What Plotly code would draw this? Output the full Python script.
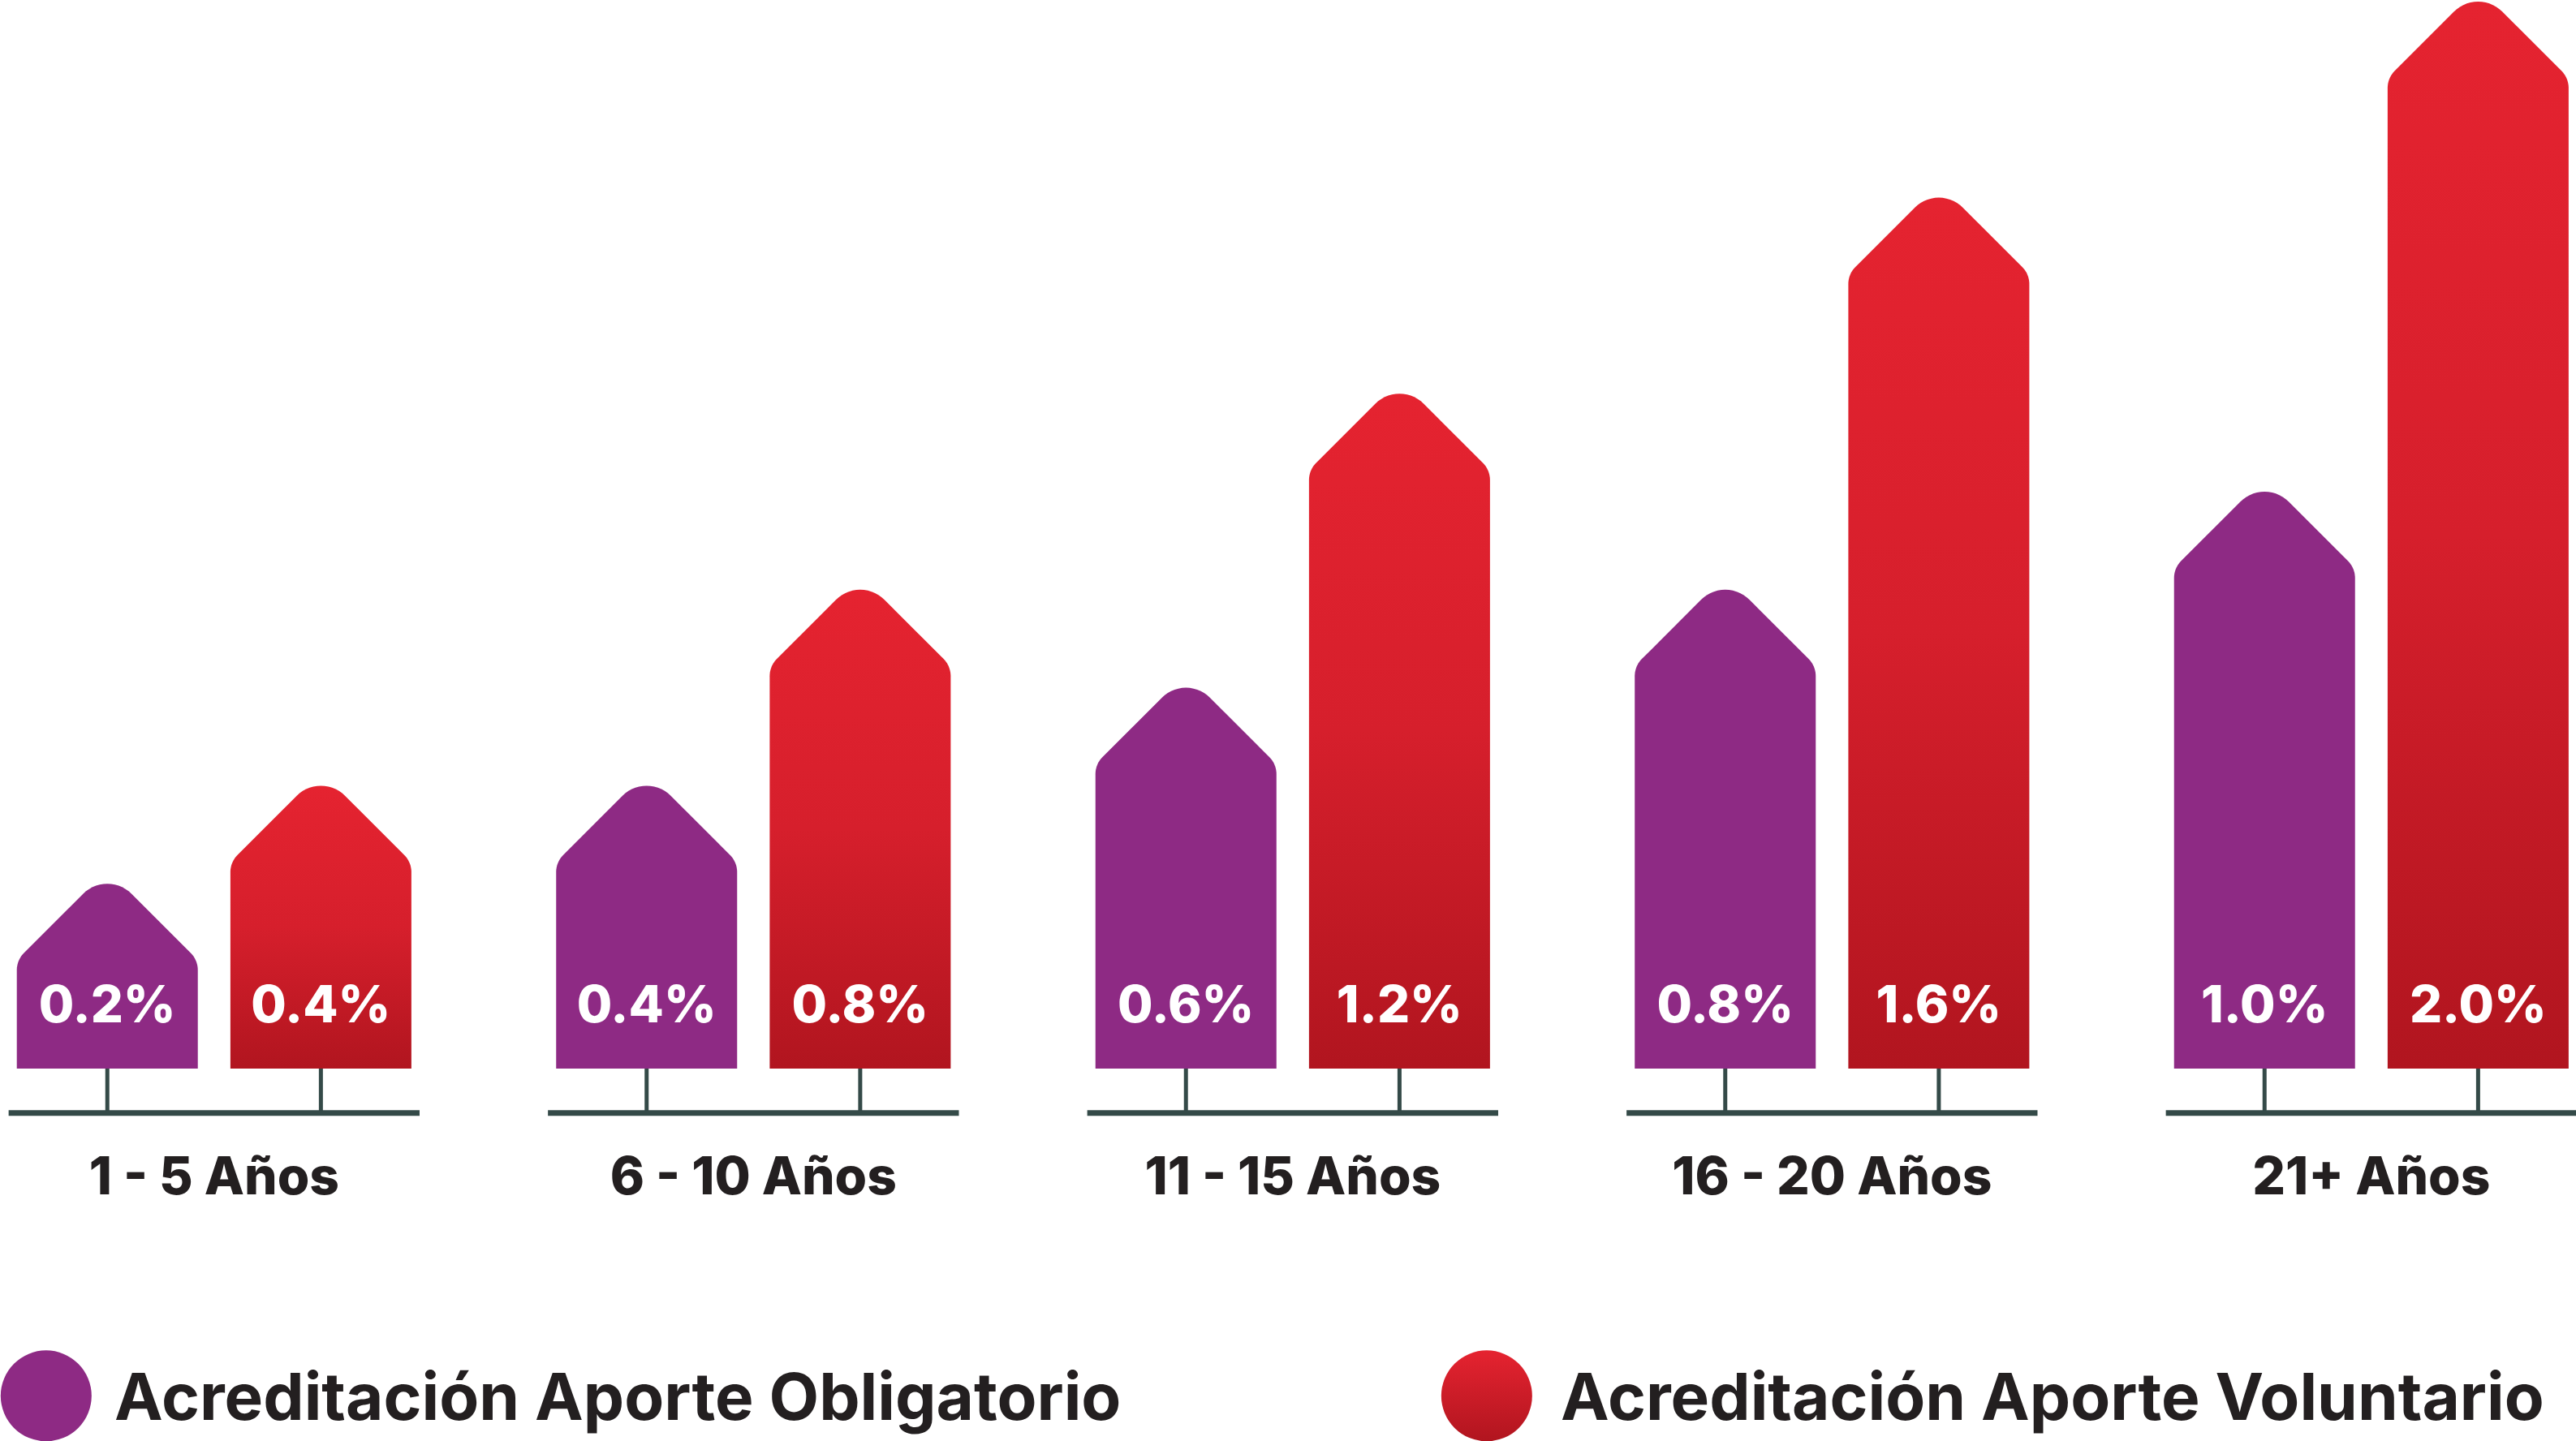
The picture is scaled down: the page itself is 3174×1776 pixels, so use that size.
import math
import plotly.graph_objects as go

# ---------------- data ----------------
categories = ["1 - 5 Años", "6 - 10 Años", "11 - 15 Años", "16 - 20 Años", "21+ Años"]
obligatorio = [0.2, 0.4, 0.6, 0.8, 1.0]
voluntario = [0.4, 0.8, 1.2, 1.6, 2.0]
series_names = ["Acreditación Aporte Obligatorio", "Acreditación Aporte Voluntario"]

# ---------------- layout / style ----------------
W, H = 3174, 1776
X0, X1 = -0.3970, 4.3795
Y0, Y1 = -0.9371, 2.0033
PX_X = W / (X1 - X0)
PX_Y = H / (Y1 - Y0)

PURPLE = "#8E2A84"
RED_TOP = "#E52330"
RED_MID = "#D61F2C"
RED_BOT = "#B1151F"
RED_SCALE = [[0, RED_BOT], [0.5, RED_MID], [1, RED_TOP]]
AXIS_COLOR = "#344A48"
TEXT_COLOR = "#231F20"

BAR_OFFSET = 0.198
BAR_HALF = 0.1678
BASE = -0.177
AXIS_Y = -0.268
AXIS_HALF = 0.381
VALUE_LABEL_Y = -0.057
CAT_LABEL_Y = -0.408
LEGEND_Y = -0.845
R_PEAK = 42.0
R_SHOULDER = 30.0


def rounded_polygon(verts, radii, n=14):
    """verts in pixel space; returns list of points with rounded corners."""
    out = []
    m = len(verts)
    for k in range(m):
        P = verts[k]
        r = radii[k]
        if r <= 0:
            out.append(P)
            continue
        A = verts[k - 1]
        B = verts[(k + 1) % m]
        u1 = (A[0] - P[0], A[1] - P[1])
        u2 = (B[0] - P[0], B[1] - P[1])
        l1 = math.hypot(*u1)
        l2 = math.hypot(*u2)
        u1 = (u1[0] / l1, u1[1] / l1)
        u2 = (u2[0] / l2, u2[1] / l2)
        ang = math.acos(max(-1, min(1, u1[0] * u2[0] + u1[1] * u2[1])))
        th = ang / 2
        t = r / math.tan(th)
        bis = (u1[0] + u2[0], u1[1] + u2[1])
        lb = math.hypot(*bis)
        bis = (bis[0] / lb, bis[1] / lb)
        d = r / math.sin(th)
        C = (P[0] + bis[0] * d, P[1] + bis[1] * d)
        T1 = (P[0] + u1[0] * t, P[1] + u1[1] * t)
        T2 = (P[0] + u2[0] * t, P[1] + u2[1] * t)
        a1 = math.atan2(T1[1] - C[1], T1[0] - C[0])
        a2 = math.atan2(T2[1] - C[1], T2[0] - C[0])
        da = a2 - a1
        while da > math.pi:
            da -= 2 * math.pi
        while da < -math.pi:
            da += 2 * math.pi
        for j in range(n + 1):
            a = a1 + da * j / n
            out.append((C[0] + r * math.cos(a), C[1] + r * math.sin(a)))
    return out


def arrow_bar(xc, value):
    """Arrow shaped bar from BASE up to value (rounded tip at value)."""
    cx = xc * PX_X
    w = BAR_HALF * PX_X
    yb = BASE * PX_Y
    apex = value * PX_Y + R_PEAK * (math.sqrt(2) - 1)
    ys = apex - w
    verts = [(cx - w, yb), (cx - w, ys), (cx, apex), (cx + w, ys), (cx + w, yb)]
    radii = [0, R_SHOULDER, R_PEAK, R_SHOULDER, 0]
    pts = rounded_polygon(verts, radii)
    xs = [p[0] / PX_X for p in pts] + [pts[0][0] / PX_X]
    ys_ = [p[1] / PX_Y for p in pts] + [pts[0][1] / PX_Y]
    return xs, ys_


fig = go.Figure()

# axis lines and ticks
ax_x, ax_y, tk_x, tk_y = [], [], [], []
for i in range(len(categories)):
    ax_x += [i - AXIS_HALF, i + AXIS_HALF, None]
    ax_y += [AXIS_Y, AXIS_Y, None]
    for off in (-BAR_OFFSET, BAR_OFFSET):
        tk_x += [i + off, i + off, None]
        tk_y += [BASE, AXIS_Y, None]
fig.add_trace(go.Scatter(x=tk_x, y=tk_y, mode="lines", line=dict(color=AXIS_COLOR, width=5),
                         hoverinfo="skip", showlegend=False))
fig.add_trace(go.Scatter(x=ax_x, y=ax_y, mode="lines", line=dict(color=AXIS_COLOR, width=7),
                         hoverinfo="skip", showlegend=False))

# bars
for i, v in enumerate(obligatorio):
    xs, ys = arrow_bar(i - BAR_OFFSET, v)
    fig.add_trace(go.Scatter(x=xs, y=ys, mode="none", fill="toself", fillcolor=PURPLE,
                             name=series_names[0], hoverinfo="skip", showlegend=False))
for i, v in enumerate(voluntario):
    xs, ys = arrow_bar(i + BAR_OFFSET, v)
    fig.add_trace(go.Scatter(x=xs, y=ys, mode="none", fill="toself",
                             fillgradient=dict(type="vertical", colorscale=RED_SCALE),
                             name=series_names[1], hoverinfo="skip", showlegend=False))

# value labels
lx = [i - BAR_OFFSET for i in range(len(categories))] + [i + BAR_OFFSET for i in range(len(categories))]
lt = [f"{v:.1f}%" for v in obligatorio] + [f"{v:.1f}%" for v in voluntario]
fig.add_trace(go.Scatter(x=lx, y=[VALUE_LABEL_Y] * len(lx), mode="text", text=lt,
                         textposition="middle center",
                         textfont=dict(family="Inter", size=63, color="white", weight=800),
                         hoverinfo="skip", showlegend=False))

# category labels
fig.add_trace(go.Scatter(x=list(range(len(categories))), y=[CAT_LABEL_Y] * len(categories),
                         mode="text", text=categories, textposition="middle center",
                         textfont=dict(family="Inter", size=64, color=TEXT_COLOR, weight=800),
                         hoverinfo="skip", showlegend=False))

# legend (manual)
LEG_CIRCLE_X = [-0.3115, 2.3597]
LEG_TEXT_X = [-0.1881, 2.4936]
fig.add_trace(go.Scatter(x=[LEG_CIRCLE_X[0]], y=[LEGEND_Y], mode="markers",
                         marker=dict(size=112, color=PURPLE, line=dict(width=0)),
                         hoverinfo="skip", showlegend=False))
fig.add_trace(go.Scatter(x=[LEG_CIRCLE_X[1]], y=[LEGEND_Y], mode="markers",
                         marker=dict(size=112, color=RED_TOP, line=dict(width=0),
                                     gradient=dict(type="vertical", color=RED_BOT)),
                         hoverinfo="skip", showlegend=False))
for k in range(2):
    fig.add_annotation(x=LEG_TEXT_X[k], y=LEGEND_Y, text=series_names[k], showarrow=False,
                       xanchor="left", yanchor="middle",
                       font=dict(family="Inter", size=80, color=TEXT_COLOR, weight=700))

fig.update_layout(
    width=W, height=H,
    margin=dict(l=0, r=0, t=0, b=0),
    paper_bgcolor="white", plot_bgcolor="white",
    xaxis=dict(range=[X0, X1], visible=False, fixedrange=True),
    yaxis=dict(range=[Y0, Y1], visible=False, fixedrange=True),
    showlegend=False,
)

fig.write_html("out.html", config={"displayModeBar": False})
